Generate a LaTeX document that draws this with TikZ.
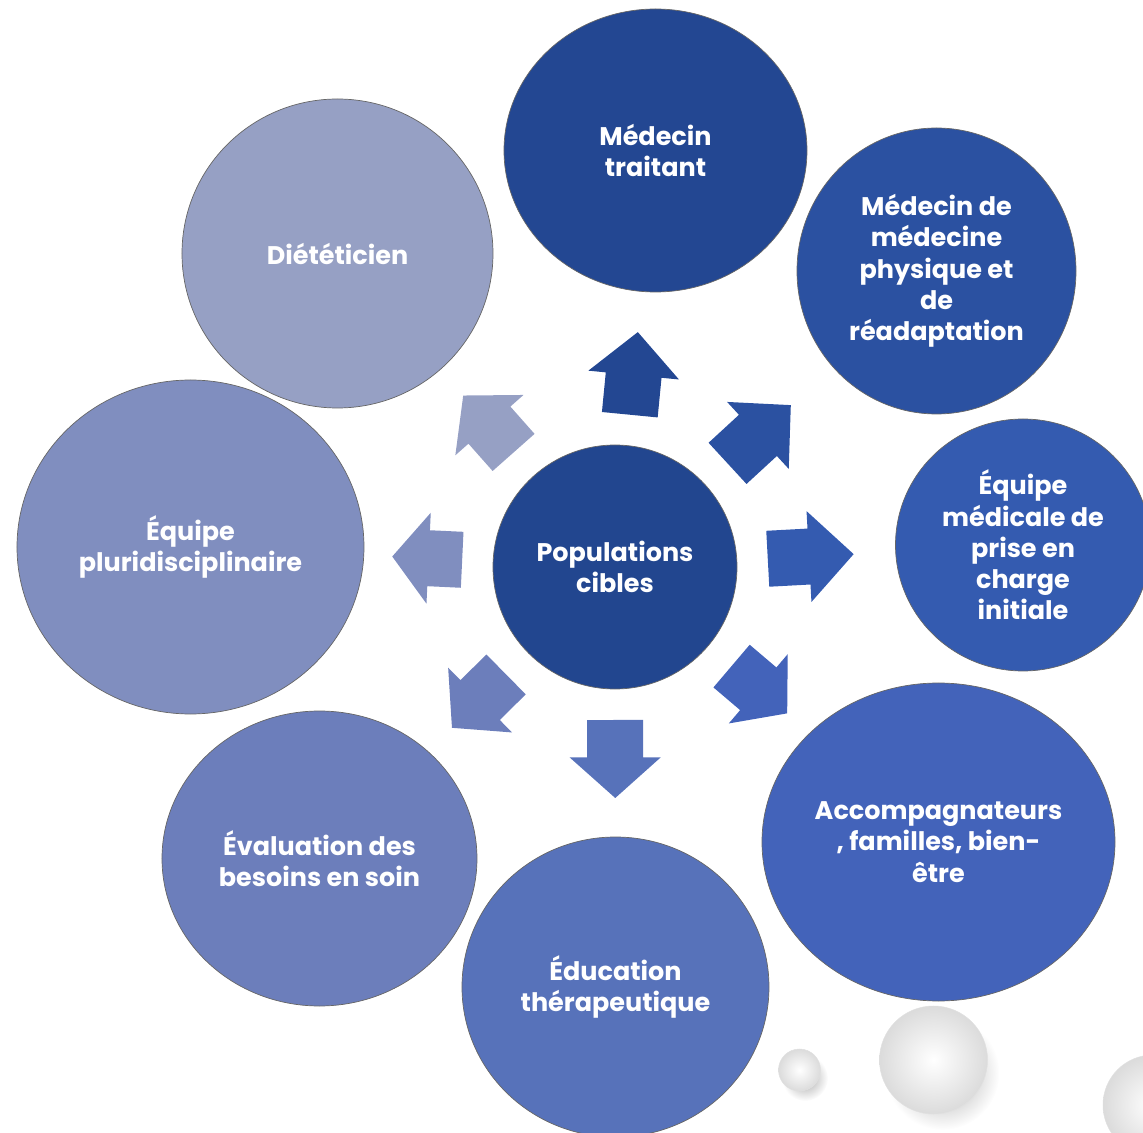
\documentclass[tikz,border=0pt]{standalone}
\usepackage{fontspec}
\setmainfont{Poppins}
\usepackage{tikz}
\usetikzlibrary{shapes.geometric, calc}

\definecolor{popblue}{RGB}{34, 70, 143}
\definecolor{traitblue}{RGB}{35, 71, 146}
\definecolor{mprblue}{RGB}{43, 81, 161}
\definecolor{initblue}{RGB}{52, 91, 176}
\definecolor{accblue}{RGB}{67, 99, 186}
\definecolor{educblue}{RGB}{87, 114, 186}
\definecolor{evalblue}{RGB}{108, 126, 187}
\definecolor{plurblue}{RGB}{128, 142, 191}
\definecolor{dietblue}{RGB}{150, 160, 196}

% grosse flèche pleine partant du centre vers un cercle
\newcommand{\flecheVers}[3]{%
  \pgfmathanglebetweenpoints{\pgfpointanchor{pop}{center}}{\pgfpointanchor{#1}{center}}%
  \edef\angFl{\pgfmathresult}%
  \pgfmathsetmacro\xb{3.06+0.48*#3}%
  \pgfmathsetmacro\xc{3.06+#3}%
  \begin{scope}[shift={(pop.center)}, rotate=\angFl]
    \fill[#2] (3.06,-0.56) -- (\xb,-0.56) -- (\xb,-0.91) -- (\xc,0) -- (\xb,0.91) -- (\xb,0.56) -- (3.06,0.56) -- cycle;
  \end{scope}}

\begin{document}
\begin{tikzpicture}[
  cercle/.style={ellipse, draw=black!60, line width=0.4pt, inner sep=0pt, align=center, text=white, font=\bfseries\fontsize{14.5}{17.8}\selectfont},
  ombre/.style={inner color=black!35, outer color=white},
  bulle/.style={draw=black!12, line width=0.3pt, inner color=white, outer color=black!14}
]
  \useasboundingbox (-12.30,-11.32) rectangle (10.56,11.34);

  % Centre
  \node[cercle, fill=popblue, minimum width=4.88cm, minimum height=4.88cm] (pop) at (0, 0) {Populations\\cibles};

  % Cercles autour
  \node[cercle, fill=traitblue, minimum width=6.06cm, minimum height=5.66cm] (trait) at (0.81, 8.33) {Médecin\\traitant};
  \node[cercle, fill=mprblue, minimum width=5.58cm, minimum height=5.72cm] (mpr) at (6.43, 5.92) {Médecin de\\médecine\\physique et\\de\\réadaptation};
  \node[cercle, fill=initblue, minimum width=5.10cm, minimum height=5.04cm] (init) at (8.16, 0.44) {Équipe\\médicale de\\prise en\\charge\\initiale};
  \node[cercle, fill=accblue, minimum width=7.06cm, minimum height=6.36cm] (acc) at (6.47, -5.50) {Accompagnateurs\\, familles, bien-\\être};
  \node[cercle, fill=educblue, minimum width=6.14cm, minimum height=6.00cm] (educ) at (0.01, -8.40) {Éducation\\thérapeutique};
  \node[cercle, fill=evalblue, minimum width=6.30cm, minimum height=5.90cm] (eval) at (-5.91, -5.83) {Évaluation des\\besoins en soin};
  \node[cercle, fill=plurblue, minimum width=6.94cm, minimum height=6.68cm] (plur) at (-8.49, 0.40) {Équipe\\pluridisciplinaire};
  \node[cercle, fill=dietblue, minimum width=6.22cm, minimum height=6.18cm] (diet) at (-5.55, 6.27) {Diététicien};

  % Flèches
  \flecheVers{trait}{traitblue}{1.66}
  \flecheVers{mpr}{mprblue}{1.72}
  \flecheVers{init}{initblue}{1.72}
  \flecheVers{acc}{accblue}{1.46}
  \flecheVers{educ}{educblue}{1.56}
  \flecheVers{eval}{evalblue}{1.52}
  \flecheVers{plur}{plurblue}{1.40}
  \flecheVers{diet}{dietblue}{1.52}

  % Bulles décoratives
  \shade[ombre] (3.80, -10.22) circle (0.46);
  \shade[bulle] (3.69, -10.06) circle (0.42);
  \shade[ombre] (6.55, -10.12) circle (1.14);
  \shade[bulle] (6.37, -9.86) circle (1.08);
  \shade[ombre] (10.92, -11.00) circle (1.06);
  \shade[bulle] (10.76, -10.76) circle (1.00);
\end{tikzpicture}
\end{document}
